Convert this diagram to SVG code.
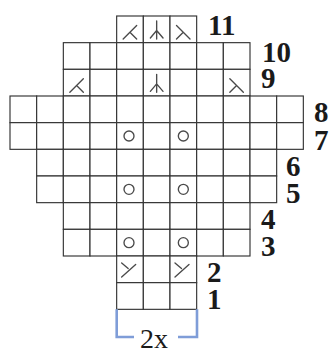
<svg xmlns="http://www.w3.org/2000/svg" xmlns:xlink="http://www.w3.org/1999/xlink" width="333" height="350" viewBox="0 0 333 350">
<style>
.grid{fill:#fff;stroke:#333;stroke-width:1.15}
.sym{fill:none;stroke:#4a4a4a;stroke-width:1.35;stroke-linecap:round}
.lbl{font-family:"Liberation Serif","DejaVu Serif","Times New Roman",serif;font-weight:bold;font-size:29px;fill:#1a1a1a}
.rep{font-family:"Liberation Serif","DejaVu Serif","Times New Roman",serif;font-size:28px;fill:#1a1a1a}
.br{fill:none;stroke:#7f9dd8;stroke-width:2.6}
</style>
<defs>
<rect id="cell" width="26.667" height="26.667" class="grid"/>
<path id="dl" class="sym" d="M6.5 23 L20 9.5 M13.25 16.25 L20 23"/>
<path id="dr" class="sym" d="M6.5 9.5 L20 23 M13.25 16.25 L6.5 23"/>
<path id="dc" class="sym" d="M13.33 5 V23 M13.33 14.5 L7 22 M13.33 14.5 L19.7 22"/>
<circle id="yo" class="sym" cx="13.33" cy="13.33" r="5"/>
<path id="inc" class="sym" d="M5 7 L11.5 12.5 M19 8.5 L5 21"/>
</defs>
<rect width="333" height="350" fill="#fff"/>

<g id="row-11">
<use xlink:href="#cell" x="116.667" y="16"/><use xlink:href="#cell" x="143.333" y="16"/><use xlink:href="#cell" x="170" y="16"/>
<use xlink:href="#dl" x="116.667" y="16"/><use xlink:href="#dc" x="143.333" y="16"/><use xlink:href="#dr" x="170" y="16"/>
<text class="lbl" x="208" y="35" font-family="Liberation Serif, serif">11</text>
</g>
<g id="row-10">
<use xlink:href="#cell" x="63.333" y="42.667"/><use xlink:href="#cell" x="90" y="42.667"/><use xlink:href="#cell" x="116.667" y="42.667"/><use xlink:href="#cell" x="143.333" y="42.667"/><use xlink:href="#cell" x="170" y="42.667"/><use xlink:href="#cell" x="196.667" y="42.667"/><use xlink:href="#cell" x="223.333" y="42.667"/>
<text class="lbl" x="262" y="62">10</text>
</g>
<g id="row-9">
<use xlink:href="#cell" x="63.333" y="69.333"/><use xlink:href="#cell" x="90" y="69.333"/><use xlink:href="#cell" x="116.667" y="69.333"/><use xlink:href="#cell" x="143.333" y="69.333"/><use xlink:href="#cell" x="170" y="69.333"/><use xlink:href="#cell" x="196.667" y="69.333"/><use xlink:href="#cell" x="223.333" y="69.333"/>
<use xlink:href="#dl" x="63.333" y="69.333"/><use xlink:href="#dc" x="143.333" y="69.333"/><use xlink:href="#dr" x="223.333" y="69.333"/>
<text class="lbl" x="261" y="88">9</text>
</g>
<g id="row-8">
<use xlink:href="#cell" x="10" y="96"/><use xlink:href="#cell" x="36.667" y="96"/><use xlink:href="#cell" x="63.333" y="96"/><use xlink:href="#cell" x="90" y="96"/><use xlink:href="#cell" x="116.667" y="96"/><use xlink:href="#cell" x="143.333" y="96"/><use xlink:href="#cell" x="170" y="96"/><use xlink:href="#cell" x="196.667" y="96"/><use xlink:href="#cell" x="223.333" y="96"/><use xlink:href="#cell" x="250" y="96"/><use xlink:href="#cell" x="276.667" y="96"/>
<text class="lbl" x="314" y="122">8</text>
</g>
<g id="row-7">
<use xlink:href="#cell" x="10" y="122.667"/><use xlink:href="#cell" x="36.667" y="122.667"/><use xlink:href="#cell" x="63.333" y="122.667"/><use xlink:href="#cell" x="90" y="122.667"/><use xlink:href="#cell" x="116.667" y="122.667"/><use xlink:href="#cell" x="143.333" y="122.667"/><use xlink:href="#cell" x="170" y="122.667"/><use xlink:href="#cell" x="196.667" y="122.667"/><use xlink:href="#cell" x="223.333" y="122.667"/><use xlink:href="#cell" x="250" y="122.667"/><use xlink:href="#cell" x="276.667" y="122.667"/>
<use xlink:href="#yo" x="115.667" y="122.667"/><use xlink:href="#yo" x="170" y="122.667"/>
<text class="lbl" x="314" y="150">7</text>
</g>
<g id="row-6">
<use xlink:href="#cell" x="36.667" y="149.333"/><use xlink:href="#cell" x="63.333" y="149.333"/><use xlink:href="#cell" x="90" y="149.333"/><use xlink:href="#cell" x="116.667" y="149.333"/><use xlink:href="#cell" x="143.333" y="149.333"/><use xlink:href="#cell" x="170" y="149.333"/><use xlink:href="#cell" x="196.667" y="149.333"/><use xlink:href="#cell" x="223.333" y="149.333"/><use xlink:href="#cell" x="250" y="149.333"/>
<text class="lbl" x="286" y="176">6</text>
</g>
<g id="row-5">
<use xlink:href="#cell" x="36.667" y="176"/><use xlink:href="#cell" x="63.333" y="176"/><use xlink:href="#cell" x="90" y="176"/><use xlink:href="#cell" x="116.667" y="176"/><use xlink:href="#cell" x="143.333" y="176"/><use xlink:href="#cell" x="170" y="176"/><use xlink:href="#cell" x="196.667" y="176"/><use xlink:href="#cell" x="223.333" y="176"/><use xlink:href="#cell" x="250" y="176"/>
<use xlink:href="#yo" x="115.667" y="176"/><use xlink:href="#yo" x="170" y="176"/>
<text class="lbl" x="286" y="203">5</text>
</g>
<g id="row-4">
<use xlink:href="#cell" x="63.333" y="202.667"/><use xlink:href="#cell" x="90" y="202.667"/><use xlink:href="#cell" x="116.667" y="202.667"/><use xlink:href="#cell" x="143.333" y="202.667"/><use xlink:href="#cell" x="170" y="202.667"/><use xlink:href="#cell" x="196.667" y="202.667"/><use xlink:href="#cell" x="223.333" y="202.667"/>
<text class="lbl" x="261" y="229">4</text>
</g>
<g id="row-3">
<use xlink:href="#cell" x="63.333" y="229.333"/><use xlink:href="#cell" x="90" y="229.333"/><use xlink:href="#cell" x="116.667" y="229.333"/><use xlink:href="#cell" x="143.333" y="229.333"/><use xlink:href="#cell" x="170" y="229.333"/><use xlink:href="#cell" x="196.667" y="229.333"/><use xlink:href="#cell" x="223.333" y="229.333"/>
<use xlink:href="#yo" x="115.667" y="229.333"/><use xlink:href="#yo" x="170" y="229.333"/>
<text class="lbl" x="261" y="256">3</text>
</g>
<g id="row-2">
<use xlink:href="#cell" x="116.667" y="256"/><use xlink:href="#cell" x="143.333" y="256"/><use xlink:href="#cell" x="170" y="256"/>
<use xlink:href="#inc" x="116.667" y="256"/><use xlink:href="#inc" x="170" y="256"/>
<text class="lbl" x="207" y="282">2</text>
</g>
<g id="row-1">
<use xlink:href="#cell" x="116.667" y="282.667"/><use xlink:href="#cell" x="143.333" y="282.667"/><use xlink:href="#cell" x="170" y="282.667"/>
<text class="lbl" x="207" y="309">1</text>
</g>
<g id="repeat">
<path class="br" d="M116.7 309.3 V337 H134 M178 337 H197 V309.3"/>
<text class="rep" x="140" y="348">2x</text>
</g>
</svg>
